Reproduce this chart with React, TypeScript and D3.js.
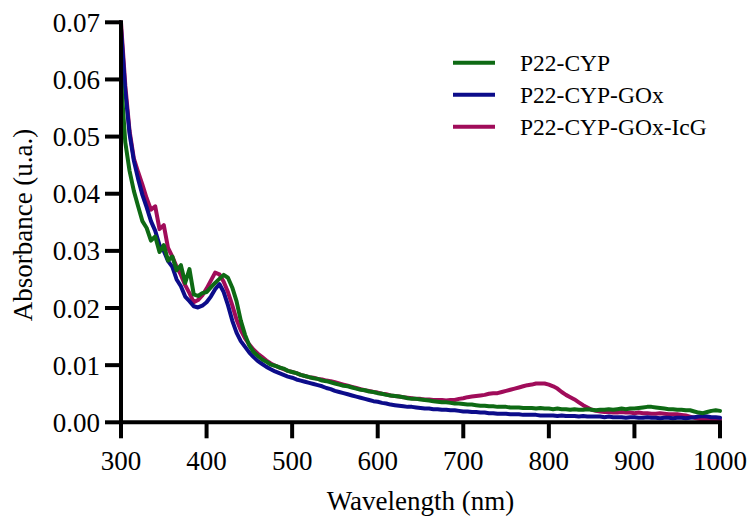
import React from "react";
import * as d3 from "d3";

// Wavelength sampling grid (nm), 5 nm steps
const wavelengths: number[] = d3.range(300, 1001, 5);

// P22-CYP (green)
const cypValues: number[] = [
  0.0600, 0.0490, 0.0440, 0.0405, 0.0378, 0.0352, 0.0340, 0.0318, 0.0325, 0.0298,
  0.0310, 0.0283, 0.0290, 0.0266, 0.0275, 0.0244, 0.0268, 0.0224, 0.0221, 0.0226,
  0.0228, 0.0236, 0.0244, 0.0251, 0.0258, 0.0253, 0.0236, 0.0212, 0.0178, 0.0153,
  0.0134, 0.0123, 0.0116, 0.0110, 0.0106, 0.0101, 0.0099, 0.0096, 0.0094, 0.0090,
  0.0088, 0.0086, 0.0083, 0.0081, 0.0079, 0.0077, 0.0076, 0.0073, 0.0072, 0.0070,
  0.0068, 0.0066, 0.0064, 0.0063, 0.0061, 0.0059, 0.0057, 0.0056, 0.0054, 0.0053,
  0.0051, 0.0050, 0.0048, 0.0047, 0.0046, 0.0045, 0.0044, 0.0042, 0.0041, 0.0041,
  0.0040, 0.0039, 0.0038, 0.0037, 0.0036, 0.0035, 0.0035, 0.0034, 0.0033, 0.0033,
  0.0032, 0.0031, 0.0031, 0.0030, 0.0029, 0.0029, 0.0028, 0.0028, 0.0027, 0.0027,
  0.0027, 0.0026, 0.0026, 0.0026, 0.0025, 0.0025, 0.0025, 0.0024, 0.0025, 0.0024,
  0.0024, 0.0023, 0.0024, 0.0023, 0.0023, 0.0022, 0.0023, 0.0022, 0.0022, 0.0023,
  0.0022, 0.0021, 0.0022, 0.0022, 0.0023, 0.0022, 0.0023, 0.0024, 0.0023, 0.0024,
  0.0024, 0.0025, 0.0026, 0.0027, 0.0027, 0.0026, 0.0025, 0.0024, 0.0023, 0.0023,
  0.0022, 0.0022, 0.0021, 0.0021, 0.0019, 0.0017, 0.0016, 0.0018, 0.0020, 0.0021,
  0.0020,
];

// P22-CYP-GOx (blue)
const goxValues: number[] = [
  0.0690, 0.0580, 0.0505, 0.0458, 0.0426, 0.0398, 0.0376, 0.0352, 0.0335, 0.0310,
  0.0300, 0.0282, 0.0272, 0.0250, 0.0238, 0.0220, 0.0212, 0.0203, 0.0201, 0.0204,
  0.0210, 0.0220, 0.0233, 0.0242, 0.0228, 0.0205, 0.0178, 0.0157, 0.0142, 0.0132,
  0.0122, 0.0114, 0.0107, 0.0102, 0.0097, 0.0093, 0.0089, 0.0086, 0.0083, 0.0080,
  0.0078, 0.0075, 0.0073, 0.0071, 0.0069, 0.0067, 0.0065, 0.0063, 0.0060, 0.0058,
  0.0055, 0.0053, 0.0051, 0.0049, 0.0047, 0.0045, 0.0043, 0.0041, 0.0039, 0.0037,
  0.0036, 0.0034, 0.0033, 0.0031, 0.0030, 0.0029, 0.0028, 0.0027, 0.0027, 0.0026,
  0.0025, 0.0024, 0.0024, 0.0023, 0.0023, 0.0022, 0.0022, 0.0021, 0.0021, 0.0020,
  0.0019, 0.0019, 0.0018, 0.0018, 0.0017, 0.0017, 0.0016, 0.0016, 0.0015, 0.0015,
  0.0015, 0.0014, 0.0014, 0.0014, 0.0013, 0.0013, 0.0013, 0.0013, 0.0012, 0.0012,
  0.0012, 0.0012, 0.0011, 0.0012, 0.0011, 0.0011, 0.0011, 0.0010, 0.0011, 0.0010,
  0.0010, 0.0010, 0.0010, 0.0009, 0.0010, 0.0009, 0.0009, 0.0009, 0.0008, 0.0009,
  0.0009, 0.0008, 0.0008, 0.0009, 0.0008, 0.0008, 0.0007, 0.0008, 0.0008, 0.0007,
  0.0008, 0.0008, 0.0007, 0.0008, 0.0009, 0.0010, 0.0011, 0.0010, 0.0009, 0.0009,
  0.0008,
];

// P22-CYP-GOx-IcG (magenta)
const icgValues: number[] = [
  0.0700, 0.0590, 0.0510, 0.0462, 0.0438, 0.0416, 0.0392, 0.0372, 0.0378, 0.0338,
  0.0345, 0.0305, 0.0290, 0.0272, 0.0258, 0.0240, 0.0226, 0.0210, 0.0214, 0.0222,
  0.0234, 0.0248, 0.0262, 0.0259, 0.0246, 0.0228, 0.0205, 0.0180, 0.0161, 0.0147,
  0.0136, 0.0127, 0.0120, 0.0114, 0.0108, 0.0103, 0.0099, 0.0096, 0.0093, 0.0090,
  0.0088, 0.0086, 0.0083, 0.0081, 0.0079, 0.0078, 0.0076, 0.0075, 0.0073, 0.0072,
  0.0070, 0.0068, 0.0066, 0.0064, 0.0062, 0.0060, 0.0058, 0.0056, 0.0055, 0.0053,
  0.0052, 0.0050, 0.0049, 0.0047, 0.0046, 0.0045, 0.0044, 0.0043, 0.0042, 0.0041,
  0.0041, 0.0040, 0.0040, 0.0039, 0.0039, 0.0039, 0.0038, 0.0039, 0.0039, 0.0041,
  0.0042, 0.0044, 0.0045, 0.0046, 0.0047, 0.0048, 0.0050, 0.0051, 0.0051, 0.0053,
  0.0055, 0.0057, 0.0059, 0.0061, 0.0063, 0.0065, 0.0066, 0.0068, 0.0068, 0.0068,
  0.0066, 0.0063, 0.0059, 0.0053, 0.0048, 0.0044, 0.0040, 0.0035, 0.0030, 0.0026,
  0.0022, 0.0020, 0.0019, 0.0018, 0.0018, 0.0017, 0.0017, 0.0018, 0.0017, 0.0017,
  0.0016, 0.0017, 0.0016, 0.0016, 0.0015, 0.0015, 0.0016, 0.0015, 0.0014, 0.0014,
  0.0014, 0.0013, 0.0012, 0.0010, 0.0008, 0.0006, 0.0005, 0.0004, 0.0005, 0.0006,
  0.0005,
];

const seriesNames: string[] = ["P22-CYP", "P22-CYP-GOx", "P22-CYP-GOx-IcG"];
const seriesColors: string[] = ["#0e6a14", "#0c0c8a", "#a00c5a"];
const xTicks: number[] = [300, 400, 500, 600, 700, 800, 900, 1000];
const yTicks: number[] = [0, 0.01, 0.02, 0.03, 0.04, 0.05, 0.06, 0.07];
const xTitle = "Wavelength (nm)";
const yTitle = "Absorbance (u.a.)";

const W = 749;
const H = 521;
const FONT = "'Liberation Serif', 'Times New Roman', serif";

export default function App() {
  const x = d3.scaleLinear().domain([300, 1000]).range([121, 720]);
  const y = d3.scaleLinear().domain([0, 0.07]).range([422.3, 22.3]);

  const valueSets = [cypValues, goxValues, icgValues];
  const line = d3
    .line<number>()
    .x((_, i) => x(wavelengths[i]))
    .y((d) => y(d));

  // draw order: magenta, blue, green (green on top)
  const drawOrder = [2, 1, 0];

  const x0 = x(300);
  const y0 = y(0);

  return (
    <svg
      width={W}
      height={H}
      style={{ position: "absolute", left: 0, top: 0, background: "#fff" }}
      fontFamily={FONT}
    >
      <rect x={0} y={0} width={W} height={H} fill="#fff" />

      {/* series */}
      {drawOrder.map((si) => (
        <path
          key={seriesNames[si]}
          d={line(valueSets[si]) || ""}
          fill="none"
          stroke={seriesColors[si]}
          strokeWidth={4}
          strokeLinejoin="round"
          strokeLinecap="round"
        />
      ))}

      {/* axes */}
      <line x1={x0} x2={x0} y1={y(0.07) - 2} y2={y0 + 2} stroke="#000" strokeWidth={4} />
      <line x1={x0 - 2} x2={x(1000) + 2} y1={y0} y2={y0} stroke="#000" strokeWidth={4} />

      {xTicks.map((t) => (
        <g key={"xt" + t}>
          <line x1={x(t)} x2={x(t)} y1={y0} y2={y0 + 16} stroke="#000" strokeWidth={4} />
          <text x={x(t)} y={470} textAnchor="middle" fontSize={27} fill="#000">
            {t}
          </text>
        </g>
      ))}

      {yTicks.map((t) => (
        <g key={"yt" + t}>
          <line x1={x0 - 16} x2={x0} y1={y(t)} y2={y(t)} stroke="#000" strokeWidth={4} />
          <text x={100} y={y(t) + 9.5} textAnchor="end" fontSize={27} fill="#000">
            {t.toFixed(2)}
          </text>
        </g>
      ))}

      <text x={(x(300) + x(1000)) / 2} y={510} textAnchor="middle" fontSize={27} fill="#000">
        {xTitle}
      </text>
      <text
        transform={`translate(32,225) rotate(-90)`}
        textAnchor="middle"
        fontSize={27}
        fill="#000"
      >
        {yTitle}
      </text>

      {/* legend */}
      {seriesNames.map((name, i) => {
        const ly = 62.7 + i * 32;
        return (
          <g key={"lg" + name}>
            <line x1={453} x2={495} y1={ly} y2={ly} stroke={seriesColors[i]} strokeWidth={4} />
            <text x={520} y={ly + 8.5} fontSize={23.5} fill="#000">
              {name}
            </text>
          </g>
        );
      })}
    </svg>
  );
}
